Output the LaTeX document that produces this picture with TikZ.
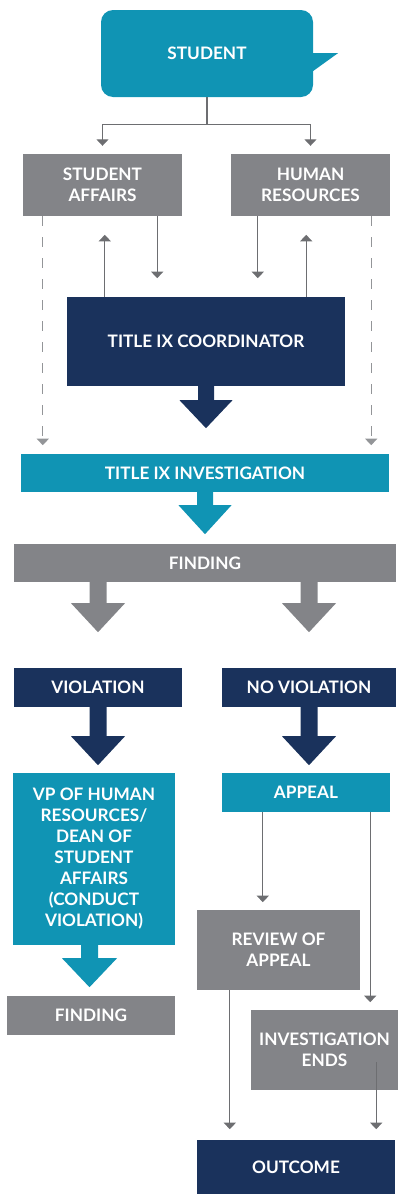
\documentclass[tikz,border=0pt]{standalone}
\usepackage{fontspec}
\setmainfont{Lato}
\usetikzlibrary{arrows.meta,calc}
\definecolor{tealc}{HTML}{1094B4}
\definecolor{navyc}{HTML}{1A325C}
\definecolor{grayc}{HTML}{838488}
\definecolor{connc}{HTML}{6D6E71}
\definecolor{dashc}{HTML}{939598}
\newcommand\blockarrow[6]{\fill[#1] (#2) ++(-#3,0) -- ++(0,#4) -- ++(#3-#5,0) -- ++(#5,#6) -- ++(#5,-#6) -- ++(#3-#5,0) -- ++(0,-#4) -- cycle;}
\begin{document}
\begin{tikzpicture}[x=1pt,y=-1pt,
  box/.style={draw=none, inner sep=0pt, text=white, font=\bfseries\fontsize{17.2}{21}\selectfont, align=center},
  conn/.style={draw=connc, line width=1.2pt, -{Triangle[width=12pt,length=6.5pt]}},
  dconn/.style={conn, draw=dashc, dash pattern=on 10pt off 11pt}]
\useasboundingbox (0,0) rectangle (398,1194);
% nodes
\node[box, fill=tealc, rounded corners=12pt, minimum width=212pt, minimum height=87pt] (student) at (207,53.5) {STUDENT};
\fill[tealc] ([xshift=-2pt,yshift=0.5pt]student.east) -- ++(27,0) -- ++(-25,18) -- ++(-2,0) -- cycle;
\node[box, fill=grayc, minimum width=159pt, minimum height=62pt] (sa) at (102.5,185) {STUDENT\\AFFAIRS};
\node[box, fill=grayc, minimum width=159pt, minimum height=62pt] (hr) at (310.5,185) {HUMAN\\RESOURCES};
\node[box, fill=navyc, minimum width=278pt, minimum height=89pt] (coord) at (206,341.5) {TITLE IX COORDINATOR};
\node[box, fill=tealc, minimum width=368pt, minimum height=38pt] (invest) at (205,473) {TITLE IX INVESTIGATION};
\node[box, fill=grayc, minimum width=382pt, minimum height=38pt] (finding) at (205,563) {FINDING};
\node[box, fill=navyc, minimum width=168pt, minimum height=39pt] (viol) at (98,687.5) {VIOLATION};
\node[box, fill=navyc, minimum width=174pt, minimum height=39pt] (noviol) at (309,687.5) {NO VIOLATION};
\node[box, fill=tealc, minimum width=162pt, minimum height=172pt] (vp) at (94,859) {VP OF HUMAN\\RESOURCES/\\DEAN OF\\STUDENT\\AFFAIRS\\(CONDUCT\\VIOLATION)};
\node[box, fill=grayc, minimum width=168pt, minimum height=39pt] (finding2) at (91,1015.5) {FINDING};
\node[box, fill=tealc, minimum width=168pt, minimum height=39pt] (appeal) at (306,792.5) {APPEAL};
\node[box, fill=grayc, minimum width=163pt, minimum height=80pt] (review) at (278.5,950) {REVIEW OF\\APPEAL};
\node[box, fill=grayc, minimum width=147pt, minimum height=80pt] (ends) at (324.5,1050) {INVESTIGATION\\ENDS};
\node[box, fill=navyc, minimum width=198pt, minimum height=54pt] (outcome) at (296,1167) {OUTCOME};
% thin connectors
\draw[conn, -] (student.south) -- ++(0,27) coordinate (split);
\draw[conn] (split) -| ([yshift=8pt]sa.north);
\draw[conn] (split) -| ([yshift=8pt]hr.north);
\draw[conn] ([xshift=38pt]coord.north west) -- ++(0,-62);
\draw[conn] ([xshift=-25pt]sa.south east) -- ++(0,62);
\draw[conn] ([xshift=27pt]hr.south west) -- ++(0,62);
\draw[conn] ([xshift=-39pt]coord.north east) -- ++(0,-62);
\draw[dconn] ([xshift=20pt]sa.south west) -- ++(0,229);
\draw[dconn] ([xshift=-19pt]hr.south east) -- ++(0,229);
\draw[conn] ([xshift=41pt]appeal.south west) -- ++(0,90);
\draw[conn] ([xshift=-20pt]appeal.south east) -- ++(0,190);
\draw[conn] ([xshift=33pt]review.south west) -- ++(0,139);
\draw[conn] ([xshift=-22pt,yshift=28pt]ends.south east) -- ++(0,67);
% block arrows
\blockarrow{navyc}{coord.south}{8}{14}{26.5}{28}
\blockarrow{tealc}{invest.south}{8}{13}{26.5}{29}
\blockarrow{grayc}{finding.south -| viol.north}{8.5}{21}{27}{29}
\blockarrow{grayc}{finding.south -| noviol.north}{8.5}{21}{27}{29}
\blockarrow{navyc}{viol.south}{8.5}{29}{27}{29}
\blockarrow{navyc}{noviol.south}{8.5}{29}{27}{29}
\blockarrow{tealc}{[xshift=-4.5pt]vp.south}{8.5}{13}{27.5}{29}
\end{tikzpicture}
\end{document}
